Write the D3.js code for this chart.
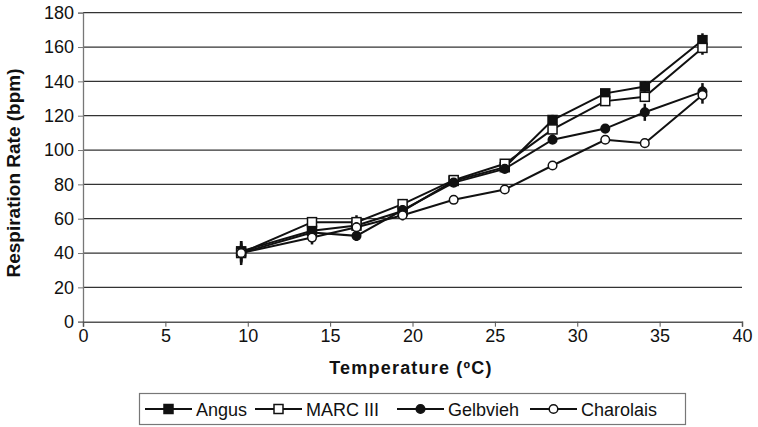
<!DOCTYPE html>
<html>
<head>
<meta charset="utf-8">
<script src="https://cdn.jsdelivr.net/npm/d3@7"></script>
<style>
  body { margin: 0; background: #fff; }
  svg { font-family: Arial, "Liberation Sans", sans-serif; }
</style>
</head>
<body>
<script>
// temperatures (x) shared by all breeds
var temps = [9.6, 13.9, 16.6, 19.4, 22.5, 25.6, 28.5, 31.7, 34.1, 37.6];

// respiration rate (bpm) per breed
var angus     = [41, 53, 56, 64.5, 82, 90, 117.5, 133, 137, 164];
var marc      = [40, 58, 58, 68.5, 82.5, 92, 112, 128.5, 131, 159.5];
var gelbvieh  = [40, 52, 50, 65, 81, 89, 106, 112.5, 122, 134];
var charolais = [40, 49, 55, 62, 71, 77, 91, 106, 104, 132];

// error bars (+/- bpm)
var angusErr     = [6, 3, 3, 3, 2, 2, 3, 2, 3, 4];
var marcErr      = [5, 3, 4, 3, 2, 2, 3, 2, 3, 4];
var gelbviehErr  = [6, 3, 3, 3, 2, 2, 2, 2, 5, 5];
var charolaisErr = [7, 4, 3, 3, 2, 2, 2, 2, 2, 5];

var seriesNames = ['Angus', 'MARC III', 'Gelbvieh', 'Charolais'];
var xTicks = [0, 5, 10, 15, 20, 25, 30, 35, 40];
var yTicks = [0, 20, 40, 60, 80, 100, 120, 140, 160, 180];

var series = [
  {name: seriesNames[0], vals: angus, err: angusErr, shape: 'square', fill: '#111'},
  {name: seriesNames[1], vals: marc, err: marcErr, shape: 'square', fill: '#fff'},
  {name: seriesNames[2], vals: gelbvieh, err: gelbviehErr, shape: 'circle', fill: '#111'},
  {name: seriesNames[3], vals: charolais, err: charolaisErr, shape: 'circle', fill: '#fff'}
];

var width = 758, height = 427;
var pLeft = 83, pRight = 742, pTop = 12.7, pBottom = 321.7;

var svg = d3.select('body').append('svg')
  .attr('width', width)
  .attr('height', height);

var x = d3.scaleLinear().domain([0, 40]).range([pLeft, pRight]);
var y = d3.scaleLinear().domain([0, 180]).range([pBottom, pTop]);

// gridlines
svg.append('g')
  .selectAll('line')
  .data(yTicks.slice(1))
  .enter().append('line')
  .attr('x1', pLeft).attr('x2', pRight)
  .attr('y1', d => y(d)).attr('y2', d => y(d))
  .attr('stroke', '#333').attr('stroke-width', 1.3);

// y axis
var yAxis = svg.append('g')
  .attr('transform', 'translate(' + pLeft + ',0)')
  .call(d3.axisLeft(y).tickValues(yTicks).tickSize(5).tickPadding(4));
yAxis.select('.domain').attr('stroke', '#777').attr('stroke-width', 1.3);
yAxis.selectAll('.tick line').attr('stroke', '#777');
yAxis.selectAll('text').attr('font-size', 18).attr('fill', '#111')
  .attr('font-family', 'Arial, "Liberation Sans", sans-serif');

// x axis
var xAxis = svg.append('g')
  .attr('transform', 'translate(0,' + pBottom + ')')
  .call(d3.axisBottom(x).tickValues(xTicks).tickSize(5).tickPadding(3));
xAxis.select('.domain').attr('stroke', '#555').attr('stroke-width', 1.5);
xAxis.selectAll('.tick line').attr('stroke', '#555');
xAxis.selectAll('text').attr('font-size', 18).attr('fill', '#111')
  .attr('font-family', 'Arial, "Liberation Sans", sans-serif');

// axis titles
svg.append('text')
  .attr('transform', 'translate(20,173) rotate(-90)')
  .attr('text-anchor', 'middle')
  .attr('font-size', 19).attr('font-weight', 'bold').attr('fill', '#111')
  .text('Respiration Rate (bpm)');

svg.append('text')
  .attr('x', 411)
  .attr('y', 374)
  .attr('text-anchor', 'middle')
  .attr('font-size', 18).attr('font-weight', 'bold').attr('fill', '#111')
  .attr('letter-spacing', 1.2)
  .text('Temperature (ºC)');

var line = d3.line()
  .x((d, i) => x(temps[i]))
  .y(d => y(d));

function drawMarker(g, s, cx, cy) {
  if (s.shape === 'square') {
    g.append('rect')
      .attr('x', cx - 4.5).attr('y', cy - 4.5)
      .attr('width', 9).attr('height', 9)
      .attr('fill', s.fill).attr('stroke', '#111').attr('stroke-width', 1.5);
  } else {
    g.append('circle')
      .attr('cx', cx).attr('cy', cy).attr('r', 4.3)
      .attr('fill', s.fill).attr('stroke', '#111').attr('stroke-width', 1.5);
  }
}

series.forEach(s => {
  var g = svg.append('g');
  // error bars
  g.selectAll('line.err')
    .data(s.vals)
    .enter().append('line')
    .attr('class', 'err')
    .attr('x1', (d, i) => x(temps[i])).attr('x2', (d, i) => x(temps[i]))
    .attr('y1', (d, i) => y(d - s.err[i])).attr('y2', (d, i) => y(d + s.err[i]))
    .attr('stroke', '#111').attr('stroke-width', 2.5);
  g.append('path')
    .datum(s.vals)
    .attr('d', line)
    .attr('fill', 'none')
    .attr('stroke', '#111')
    .attr('stroke-width', 2);
  s.vals.forEach((v, i) => drawMarker(g, s, x(temps[i]), y(v)));
});

// legend
svg.append('rect')
  .attr('x', 139.5).attr('y', 393.5)
  .attr('width', 546).attr('height', 31)
  .attr('fill', '#fff').attr('stroke', '#777').attr('stroke-width', 1.2);

var legX = [145, 255, 397, 530];
series.forEach((s, i) => {
  var g = svg.append('g');
  var ly = 409;
  g.append('line')
    .attr('x1', legX[i]).attr('x2', legX[i] + 47)
    .attr('y1', ly).attr('y2', ly)
    .attr('stroke', '#111').attr('stroke-width', 2);
  drawMarker(g, s, legX[i] + 23.5, ly);
  g.append('text')
    .attr('x', legX[i] + 51).attr('y', ly + 6.5)
    .attr('font-size', 18).attr('fill', '#111')
    .text(s.name);
});
</script>
</body>
</html>
